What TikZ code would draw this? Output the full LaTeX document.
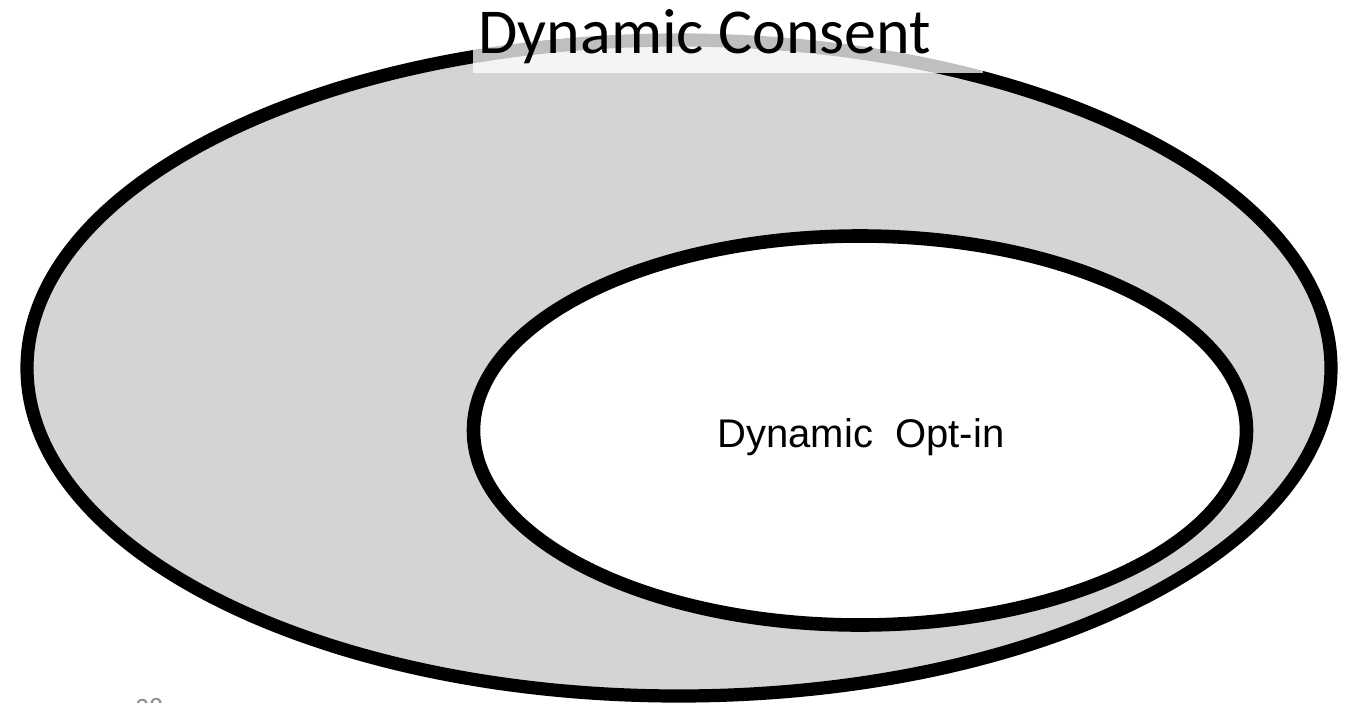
\documentclass[tikz,border=0pt]{standalone}
\usepackage{fontspec}
\setmainfont{Liberation Sans}
\newfontfamily\titlefont{Carlito}
\usetikzlibrary{shapes.geometric}
\definecolor{fillgray}{HTML}{D4D4D4}
\definecolor{pagegray}{HTML}{8C8C8C}
\tikzset{
  ring/.style={ellipse, draw=black, inner sep=0pt, outer sep=0pt},
}
\begin{document}
\begin{tikzpicture}[x=0.5pt, y=-0.5pt]
  \useasboundingbox (0,0) rectangle (1350,702);
  \clip (0,0) rectangle (1350,702);
  % outer set
  \node[ring, fill=fillgray, line width=6.6pt,
        minimum width=652pt, minimum height=328pt] (consent) at (679,368) {};
  % inner set
  \node[ring, fill=white, line width=6.8pt,
        minimum width=386.5pt, minimum height=194.5pt] (optin) at (860,430.5) {};
  \node[font=\fontsize{20}{24}\selectfont, anchor=base] (optinlabel) at (861,447) {Dynamic~~Opt-in};
  % title with its translucent backing
  \fill[white, fill opacity=0.75] (473,-5) rectangle (983,73);
  \node[font=\titlefont\fontsize{32}{38}\selectfont, anchor=base] (title) at (705,53) {Dynamic Consent};
  % page number, running off the lower edge
  \node[font=\titlefont\fontsize{14}{17}\selectfont, text=pagegray, anchor=base] (page) at (149,717) {38};
\end{tikzpicture}
\end{document}
